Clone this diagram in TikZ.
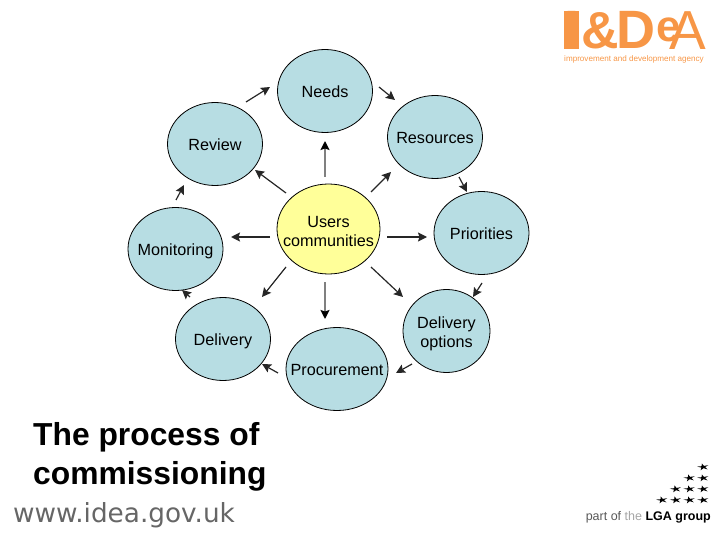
\documentclass[tikz,border=0pt]{standalone}
\usepackage{fontspec}
\setmainfont{Liberation Sans}
\newfontfamily\urlfont{DejaVu Sans}
\usetikzlibrary{arrows.meta,shapes.geometric}
\definecolor{bubble}{RGB}{183,221,227}
\definecolor{hub}{RGB}{255,255,153}
\definecolor{ideaorange}{RGB}{247,150,70}
\tikzset{
    stage/.style={draw,ellipse,fill=bubble,line width=0.8pt,minimum width=95pt,minimum height=83pt,inner xsep=-16pt,inner ysep=-8pt,align=center,text height=13pt,text depth=0pt,font=\fontsize{16.2}{19}\selectfont},
    flow/.style={-{Stealth[length=9pt,width=9pt,inset=1.5pt]},line width=1.2pt,color=black!85},
    spoke/.style={flow,line width=1.6pt,color=black!50,-{Stealth[length=9pt,width=9pt,inset=1.5pt,color=black]}},
    logotext/.style={anchor=base west,inner sep=0pt,text=ideaorange},
    flag/.style={star,star points=5,star point ratio=3,fill=black,inner sep=0pt,minimum size=12pt,yscale=0.6,rotate=12}
}
\begin{document}
\begin{tikzpicture}[x=1pt,y=-1pt]
    \useasboundingbox (0,0) rectangle (720,540);
    % ring of stages
    \node[stage] (needs) at (325,91) {Needs};
    \node[stage] (resources) at (435,137) {Resources};
    \node[stage] (priorities) at (481.5,233) {Priorities};
    \node[stage,minimum width=87pt,text height=33pt] (options) at (446.5,331) {Delivery\\options};
    \node[stage,minimum width=102pt] (procurement) at (337,369) {Procurement};
    \node[stage] (delivery) at (223,339) {Delivery};
    \node[stage] (monitoring) at (175.5,249) {Monitoring};
    \node[stage] (review) at (215,144) {Review};
    \node[stage,fill=hub,minimum width=103pt,minimum height=90pt,text height=35pt] (users) at (328.5,229) {Users\\communities};
    % around the ring
    \draw[flow] ([shift={(54,-4)}]needs.center) -- ([shift={(-40,-37)}]resources.center);
    \draw[flow] ([shift={(24,40)}]resources.center) -- ([shift={(-14.5,-41)}]priorities.center);
    \draw[flow] ([shift={(0.5,50)}]priorities.center) -- ([shift={(26.5,-34)}]options.center);
    \draw[flow] ([shift={(-34.5,33)}]options.center) -- ([shift={(59,4)}]procurement.center);
    \draw[flow] ([shift={(-59,4)}]procurement.center) -- ([shift={(39,25)}]delivery.center);
    \draw[flow] ([shift={(-33,-42)}]delivery.center) -- ([shift={(6.5,41)}]monitoring.center);
    \draw[flow] ([shift={(0.5,-49)}]monitoring.center) -- ([shift={(-31,41)}]review.center);
    \draw[flow] ([shift={(31,-42)}]review.center) -- ([shift={(-55,-4)}]needs.center);
    % from the hub
    \draw[spoke] ([shift={(-3.5,-52)}]users.center) -- ([shift={(0,50)}]needs.center);
    \draw[flow] ([shift={(42.5,-37)}]users.center) -- ([shift={(-44,35)}]resources.center);
    \draw[flow] ([shift={(58.5,8)}]users.center) -- ([shift={(-54.5,4)}]priorities.center);
    \draw[flow] ([shift={(42.5,38)}]users.center) -- ([shift={(-43.5,-34)}]options.center);
    \draw[spoke] ([shift={(-3.5,53)}]users.center) -- ([shift={(-12,-50)}]procurement.center);
    \draw[flow] ([shift={(-42.5,38)}]users.center) -- ([shift={(39,-42)}]delivery.center);
    \draw[flow,line width=1.6pt] ([shift={(-58.5,8)}]users.center) -- ([shift={(55.5,-12)}]monitoring.center);
    \draw[flow] ([shift={(-42.5,-36)}]users.center) -- ([shift={(40,26)}]review.center);
    % caption
    \node[anchor=base west,inner sep=0pt,align=left,font=\fontsize{31.8}{39}\selectfont\bfseries] (caption) at (33,484) {The process of\\commissioning};
    \node[anchor=base west,inner sep=0pt,text=black!60,font=\fontsize{26.3}{26}\selectfont\urlfont] (site) at (13,522) {www.idea.gov.uk};
    % top logo
    \fill[ideaorange] (564,11) rectangle (579,49);
    \node[logotext,font=\fontsize{54}{54}\selectfont\bfseries] (logoi) at (564,49) {I};
    \node[logotext,font=\fontsize{52}{52}\selectfont\bfseries] (logoamp) at (581,49) {\&};
    \node[logotext,font=\fontsize{54}{54}\selectfont\bfseries] (logod) at (616,49) {D};
    \node[logotext,font=\fontsize{44}{44}\selectfont\bfseries] (logoe) at (656,42) {e};
    \node[logotext,font=\fontsize{55}{55}\selectfont] (logoa) at (669,50) {A};
    \node[logotext,font=\fontsize{8.1}{8}\selectfont] (agency) at (564,62) {improvement and development agency};
    % lower logo
    \node[anchor=base east,inner sep=0pt,font=\fontsize{12.5}{12}\selectfont] (lga) at (711,520) {\textcolor{black!65}{part of} \textcolor{black!35}{the} \textbf{LGA group}};
    \foreach \col/\row in {0/0,1/0,2/0,3/0,1/1,2/1,3/1,2/2,3/2,3/3}
        \node[flag] (flag\col\row) at (662+\col*13.7,500-\row*11) {};
\end{tikzpicture}
\end{document}
